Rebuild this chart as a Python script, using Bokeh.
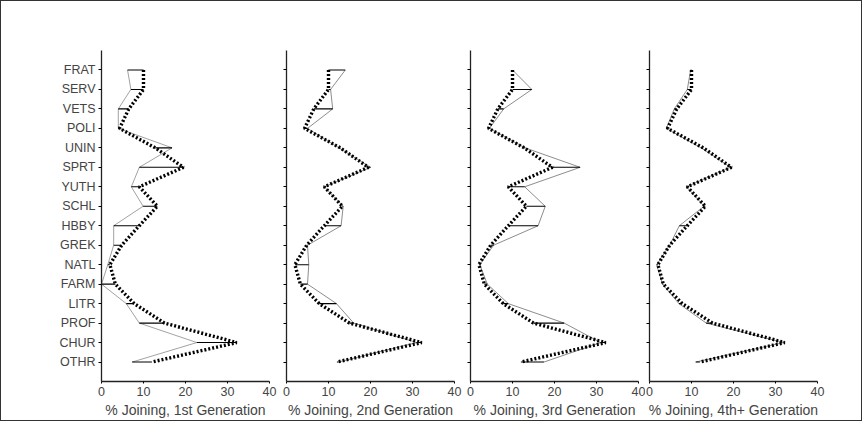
from bokeh.plotting import figure
from bokeh.layouts import row
from bokeh.models import Range1d, FixedTicker, ColumnDataSource
from bokeh.embed import file_html
from bokeh.resources import INLINE

# Categories, top to bottom
categories = ["FRAT", "SERV", "VETS", "POLI", "UNIN", "SPRT", "YUTH", "SCHL",
              "HBBY", "GREK", "NATL", "FARM", "LITR", "PROF", "CHUR", "OTHR"]

# Overall % joining (thick dotted line, same in every panel)
overall = [10.0, 10.0, 6.5, 4.3, 12.8, 19.5, 9.0, 13.3,
           9.0, 4.8, 2.0, 3.3, 7.8, 15.0, 32.2, 12.0]

# % joining by generation (thin lines)
gen1 = [6.2, 7.0, 4.0, 4.0, 16.8, 9.0, 7.1, 9.9,
        2.9, 2.9, 1.5, 0.0, 5.9, 9.0, 22.7, 7.3]
gen2 = [14.0, 10.5, 11.0, 5.0, 12.5, 20.0, 9.0, 13.5,
        13.0, 5.0, 5.3, 5.0, 11.9, 16.0, 31.0, 12.4]
gen3 = [10.0, 14.6, 7.9, 4.5, 13.0, 26.1, 12.9, 17.8,
        16.1, 5.5, 2.2, 4.0, 9.0, 22.3, 31.0, 17.5]
gen4 = [9.8, 9.0, 5.9, 4.0, 12.3, 19.3, 8.8, 13.0,
        7.1, 4.8, 1.7, 3.1, 7.0, 13.5, 32.0, 11.0]

generations = [gen1, gen2, gen3, gen4]
axis_titles = ["% Joining, 1st Generation", "% Joining, 2nd Generation",
               "% Joining, 3rd Generation", "% Joining, 4th+ Generation"]
x_ticks = [0, 10, 20, 30, 40]

n = len(categories)
ypos = [n - i for i in range(n)]  # FRAT at top
label_map = {y: c for y, c in zip(ypos, categories)}

FONT = "Liberation Sans"

borders = [(100, 8), (9, 8), (8, 7), (4, 44)]
line_colors = ["#8a8a8a", "#6e6e6e", "#6e6e6e", "#6e6e6e"]
figs = []
for k, (gen, title) in enumerate(zip(generations, axis_titles)):
    bl, br = borders[k]
    p = figure(frame_width=168, frame_height=331,
               min_border_left=bl, min_border_right=br,
               min_border_top=49, min_border_bottom=38,
               x_range=Range1d(0, 40), y_range=Range1d(0, n + 1),
               output_backend="svg", toolbar_location=None,
               background_fill_color="white", border_fill_color="white")
    p.outline_line_color = None
    p.grid.visible = False

    src = ColumnDataSource(dict(y=ypos, overall=overall, gen=gen))
    p.line(x="gen", y="y", source=src, line_color=line_colors[k], line_width=0.8)
    p.segment(x0="gen", y0="y", x1="overall", y1="y", source=src,
              line_color="black", line_width=1.1)
    p.line(x="overall", y="y", source=src, line_color="black",
           line_width=3.4, line_dash="2 2")

    xa = p.xaxis[0]
    xa.ticker = FixedTicker(ticks=x_ticks)
    xa.axis_label = title
    xa.axis_label_text_font = FONT
    xa.axis_label_text_font_style = "normal"
    xa.axis_label_text_font_size = "14px"
    xa.axis_label_standoff = 3
    xa.major_label_text_font = FONT
    xa.major_label_text_font_size = "12.5px"
    xa.major_label_standoff = 3
    xa.major_tick_out = 2
    xa.major_tick_in = 0
    xa.minor_tick_out = 0
    xa.minor_tick_in = 0
    xa.axis_line_width = 1.3
    xa.axis_line_color = "#222222"

    ya = p.yaxis[0]
    ya.ticker = FixedTicker(ticks=ypos)
    ya.major_label_overrides = {y: (c if k == 0 else "") for y, c in label_map.items()}
    ya.major_label_text_font = FONT
    ya.major_label_text_font_size = "12.5px"
    ya.major_label_standoff = 3
    ya.major_tick_out = 3
    ya.major_tick_in = 0
    ya.minor_tick_out = 0
    ya.minor_tick_in = 0
    ya.axis_line_width = 1.3
    ya.axis_line_color = "#222222"
    figs.append(p)

layout = row(*figs, styles={"border": "1px solid #333"})

open("out.html", "w").write(file_html(layout, INLINE))
